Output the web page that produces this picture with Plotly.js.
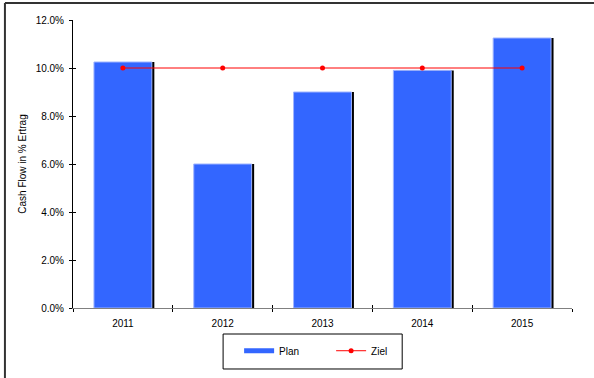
<!DOCTYPE html>
<html>
<head>
<meta charset="utf-8">
<script src="https://cdn.plot.ly/plotly-3.0.1.min.js"></script>
<style>html,body{margin:0;padding:0;background:#fff;}#chart{width:594px;height:378px;}</style>
</head>
<body>
<div id="chart"></div>
<script>
var years = ["2011", "2012", "2013", "2014", "2015"];
var planValues = [0.1025, 0.06, 0.09, 0.099, 0.1125];
var zielValues = [0.10, 0.10, 0.10, 0.10, 0.10];
var yTickValues = [0, 0.02, 0.04, 0.06, 0.08, 0.10, 0.12];
var yTickLabels = ["0.0%", "2.0%", "4.0%", "6.0%", "8.0%", "10.0%", "12.0%"];

var font = {family: "Liberation Sans, Arial, sans-serif", size: 10, color: "#000"};
var boundaries = years.map(function (_, i) { return i + 0.5; });

var shadow = {
  type: "bar", x: years, y: planValues, width: 0.58, offset: -0.265,
  marker: {color: "#000000", line: {width: 0}},
  showlegend: false, hoverinfo: "skip"
};
var plan = {
  type: "bar", name: "Plan", x: years, y: planValues, width: 0.58, offset: -0.29,
  marker: {color: "#3366FF", line: {color: "#9fb4ff", width: 1}},
  showlegend: false
};
var planLegend = {
  type: "scatter", mode: "lines", name: "Plan", x: [null], y: [null],
  line: {color: "#3366FF", width: 5}, showlegend: true
};
var ziel = {
  type: "scatter", mode: "lines+markers", name: "Ziel", x: years, y: zielValues,
  line: {color: "#FF0000", width: 1},
  marker: {color: "#FF0000", size: 5, symbol: "circle"}
};

var layout = {
  width: 594, height: 378,
  margin: {l: 73, r: 22, t: 20, b: 70},
  paper_bgcolor: "#fff", plot_bgcolor: "#fff",
  font: font,
  barmode: "overlay",
  showlegend: true,
  legend: {
    orientation: "h", x: 0.3329, xanchor: "left", y: -0.098, yanchor: "top",
    borderwidth: 0, bgcolor: "rgba(0,0,0,0)",
    font: {family: font.family, size: 10, color: "#000"},
    entrywidth: 47, itemwidth: 30, traceorder: "normal"
  },
  xaxis: {
    type: "category", range: [-0.5, 4.5], tickson: "boundaries",
    ticks: "outside", ticklen: 3, tickcolor: "#000", tickwidth: 1,
    ticklabelstandoff: 6,
    showline: true, linecolor: "#808080", linewidth: 1,
    showgrid: false, zeroline: false, fixedrange: true,
    tickfont: font
  },
  xaxis2: {
    overlaying: "x", range: [-0.5, 4.5], tickmode: "array", tickvals: boundaries,
    showticklabels: false, ticks: "inside", ticklen: 3, tickcolor: "#000", tickwidth: 1,
    showline: false, showgrid: false, zeroline: false, fixedrange: true, side: "bottom"
  },
  yaxis: {
    range: [0, 0.12], tickvals: yTickValues, ticktext: yTickLabels, tickmode: "array",
    ticks: "outside", ticklen: 3, tickcolor: "#000", tickwidth: 1,
    ticklabelstandoff: 3,
    showline: true, linecolor: "#000", linewidth: 1,
    showgrid: false, zeroline: false, fixedrange: true,
    tickfont: font,
    title: {text: "Cash Flow in % Ertrag", font: font, standoff: 7}
  },
  yaxis2: {
    overlaying: "y", range: [0, 0.12], tickmode: "array", tickvals: yTickValues,
    showticklabels: false, ticks: "inside", ticklen: 3, tickcolor: "#000", tickwidth: 1,
    showline: false, showgrid: false, zeroline: false, fixedrange: true, side: "left"
  },
  shapes: [
    {type: "line", xref: "paper", yref: "paper", x0: -0.1364, x1: 1.1, y0: 1.0590, y1: 1.0590, line: {color: "#333", width: 2}},
    {type: "line", xref: "paper", yref: "paper", x0: -0.1364, x1: -0.1364, y0: 1.0590, y1: -0.3, line: {color: "#333", width: 2}},
    {type: "rect", xref: "paper", yref: "paper", x0: 0.3008, x1: 0.6597, y0: -0.0903, y1: -0.2118, line: {color: "#000", width: 1}, fillcolor: "rgba(0,0,0,0)"}
  ],
  hovermode: false
};

var dummyAxes = {type: "scatter", x: [null], y: [null], xaxis: "x2", yaxis: "y2", showlegend: false, hoverinfo: "skip"};

Plotly.newPlot("chart", [shadow, plan, planLegend, ziel, dummyAxes], layout, {displayModeBar: false, staticPlot: true});
</script>
</body>
</html>
